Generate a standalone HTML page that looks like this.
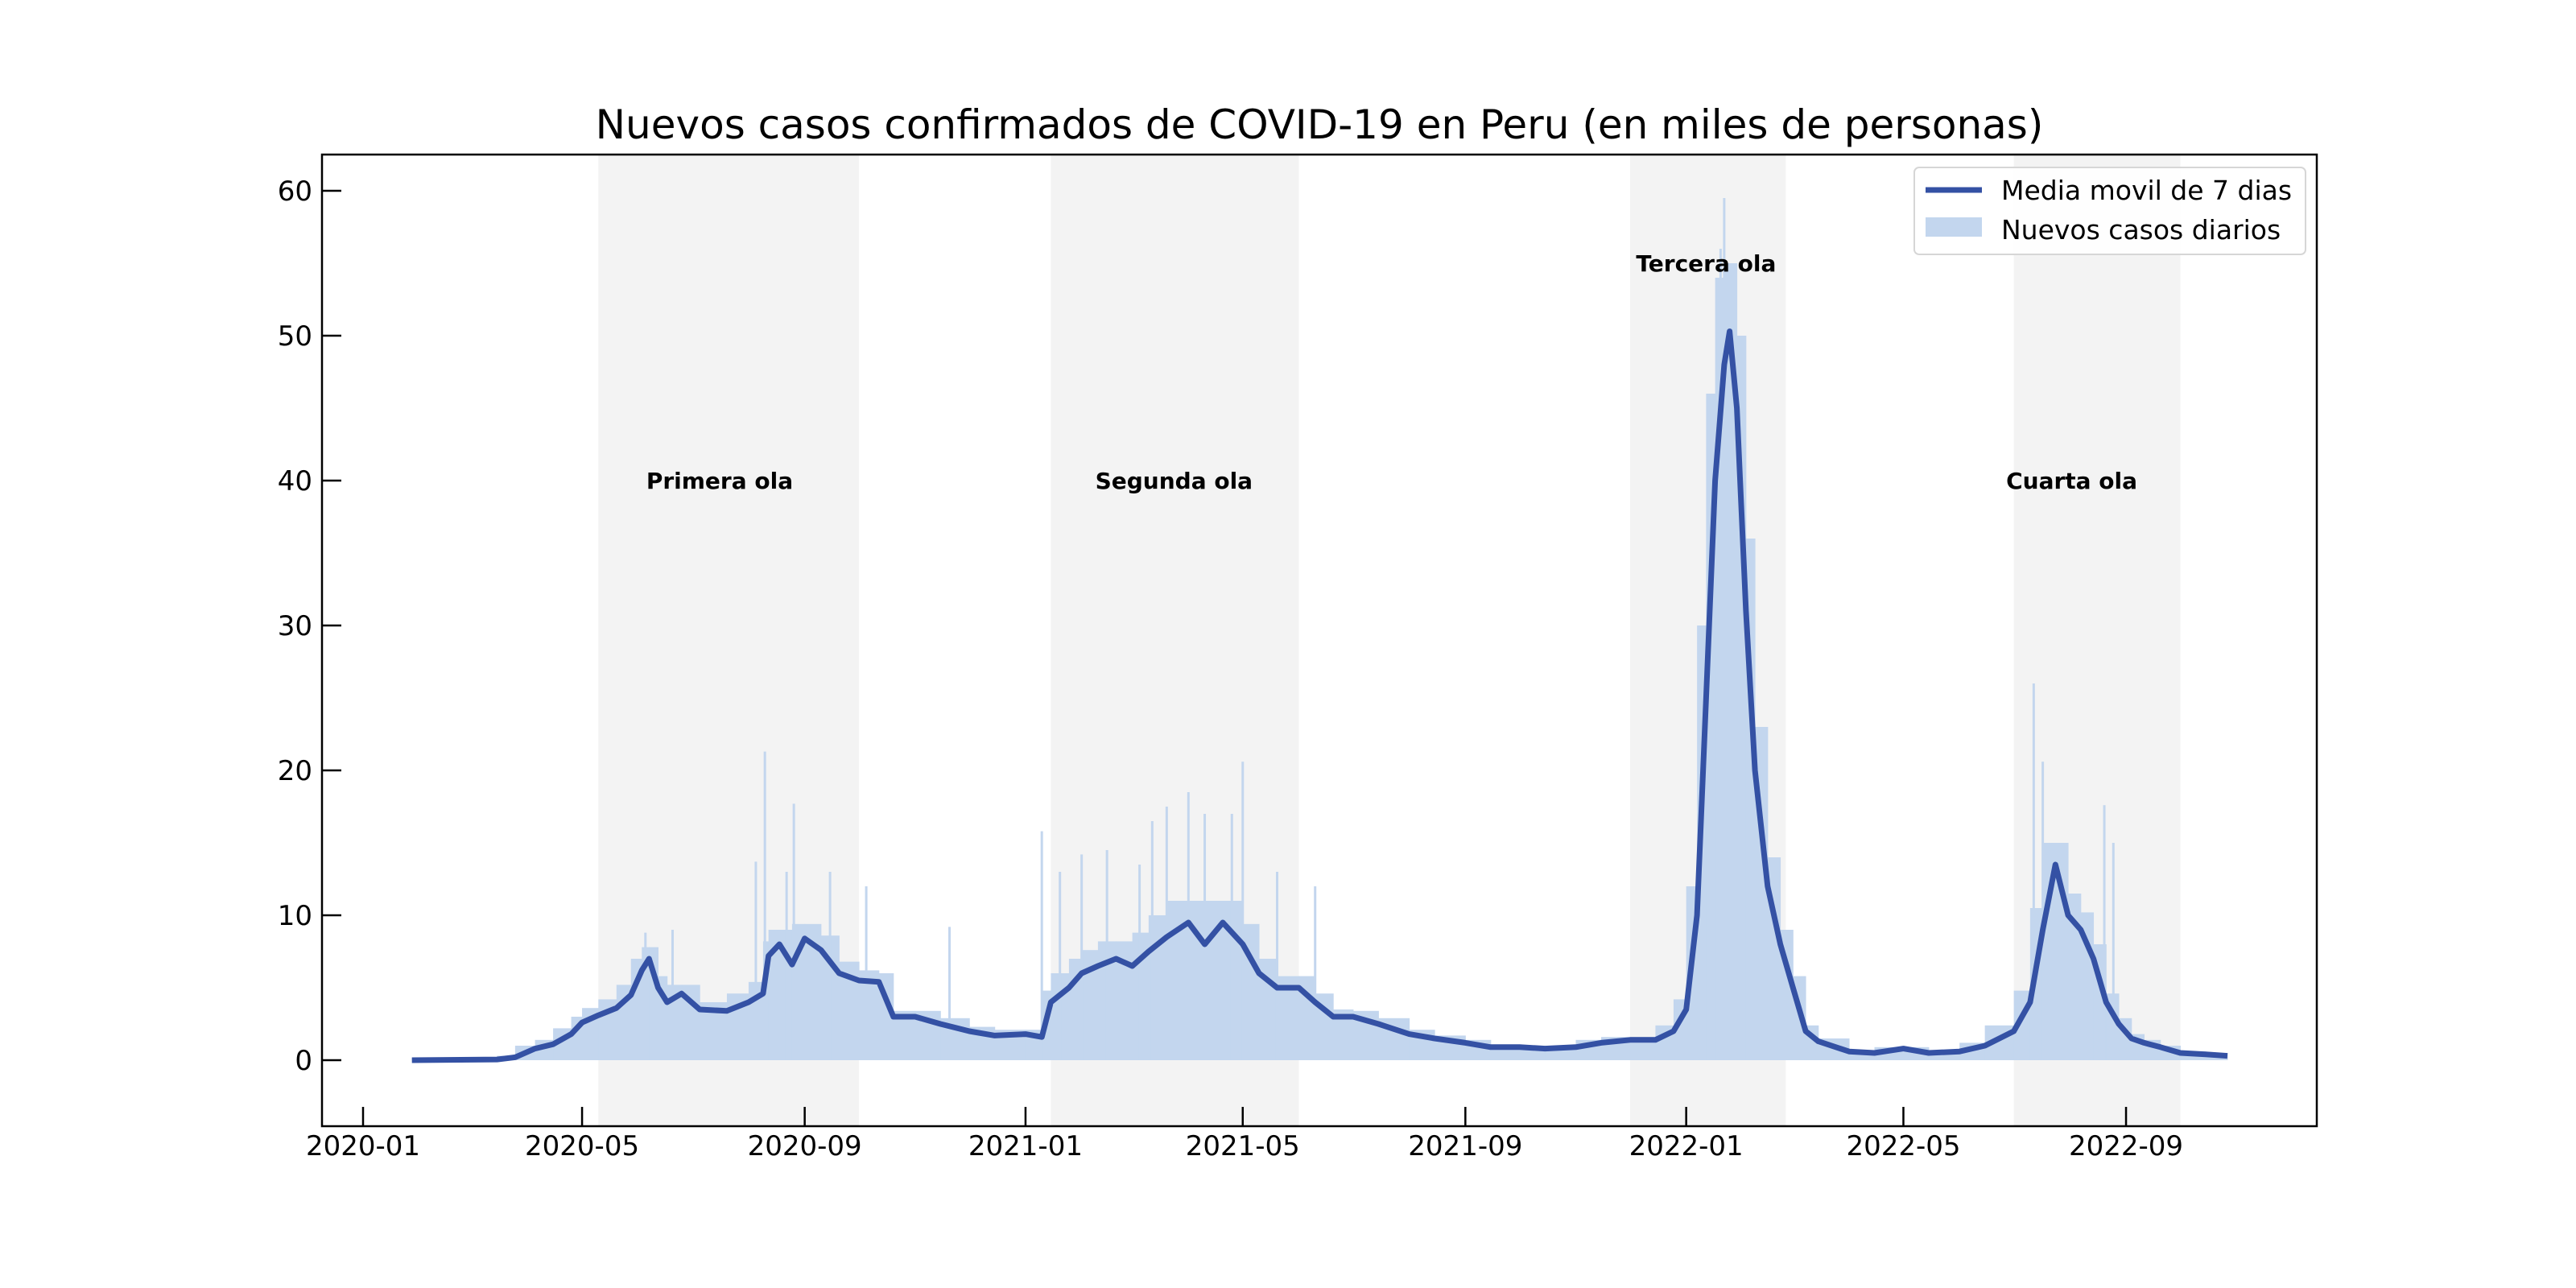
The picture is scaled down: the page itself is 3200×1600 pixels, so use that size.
<!DOCTYPE html>
<html><head><meta charset="utf-8">
<style>
html,body{margin:0;padding:0;background:#fff;}
svg{display:block;font-family:"DejaVu Sans","Liberation Sans",sans-serif;}
</style></head>
<body>
<svg id="chart" width="3200" height="1600" viewBox="0 0 3200 1600" xmlns="http://www.w3.org/2000/svg">
<rect width="3200" height="1600" fill="#fff"/>
<g id="shades"></g>
<g id="bars"></g>
<g id="spikes"></g>
<path id="maline" fill="none" stroke="#3451a4" stroke-width="7" stroke-linejoin="round"/>
<g id="labels"></g>
<rect x="400" y="192" width="2478" height="1207" fill="none" stroke="#000" stroke-width="2.5"/>
<g id="axes"></g>
<text x="1639" y="172" font-size="50" text-anchor="middle" fill="#000">Nuevos casos confirmados de COVID-19 en Peru (en miles de personas)</text>
<g>
<rect x="2378" y="208" width="486" height="108" rx="6" fill="#fff" fill-opacity="0.85" stroke="#d6d6d6" stroke-width="2"/>
<line x1="2392" y1="236" x2="2462" y2="236" stroke="#3451a4" stroke-width="7"/>
<text x="2486" y="248" font-size="33" fill="#000">Media movil de 7 dias</text>
<rect x="2392" y="270" width="70" height="24" fill="#c3d6ee"/>
<text x="2486" y="297" font-size="33" fill="#000">Nuevos casos diarios</text>
</g>
</svg>
<script>
// Moving average (thousands), dates and values
const maDates = ["2020-01-28","2020-03-15","2020-03-25","2020-04-05","2020-04-15","2020-04-25","2020-05-01","2020-05-10","2020-05-20","2020-05-28","2020-06-03","2020-06-07","2020-06-12","2020-06-17","2020-06-25","2020-07-05","2020-07-20","2020-08-01","2020-08-09","2020-08-12","2020-08-18","2020-08-25","2020-09-01","2020-09-10","2020-09-20","2020-10-01","2020-10-12","2020-10-20","2020-11-01","2020-11-15","2020-12-01","2020-12-15","2021-01-01","2021-01-10","2021-01-15","2021-01-25","2021-02-01","2021-02-10","2021-02-20","2021-03-01","2021-03-10","2021-03-20","2021-04-01","2021-04-10","2021-04-20","2021-05-01","2021-05-10","2021-05-20","2021-06-01","2021-06-10","2021-06-20","2021-07-01","2021-07-15","2021-08-01","2021-08-15","2021-09-01","2021-09-15","2021-10-01","2021-10-15","2021-11-01","2021-11-15","2021-12-01","2021-12-15","2021-12-25","2022-01-01","2022-01-07","2022-01-12","2022-01-17","2022-01-22","2022-01-25","2022-01-29","2022-02-03","2022-02-08","2022-02-15","2022-02-22","2022-03-01","2022-03-08","2022-03-15","2022-04-01","2022-04-15","2022-05-01","2022-05-15","2022-06-01","2022-06-15","2022-07-01","2022-07-10","2022-07-17","2022-07-24","2022-07-31","2022-08-07","2022-08-14","2022-08-21","2022-08-28","2022-09-04","2022-09-11","2022-09-20","2022-10-01","2022-10-15","2022-10-27"];
const maValues = [0,0.05,0.2,0.8,1.1,1.8,2.6,3.1,3.6,4.5,6.2,7.0,5.0,4.0,4.6,3.5,3.4,4.0,4.6,7.2,8.0,6.6,8.4,7.6,6.0,5.5,5.4,3.0,3.0,2.5,2.0,1.7,1.8,1.6,4.0,5.0,6.0,6.5,7.0,6.5,7.5,8.5,9.5,8.0,9.5,8.0,6.0,5.0,5.0,4.0,3.0,3.0,2.5,1.8,1.5,1.2,0.9,0.9,0.8,0.9,1.2,1.4,1.4,2.0,3.5,10.0,25.0,40.0,48.0,50.3,45.0,31.0,20.0,12.0,8.0,5.0,2.0,1.3,0.6,0.5,0.8,0.5,0.6,1.0,2.0,4.0,9.0,13.5,10.0,9.0,7.0,4.0,2.5,1.5,1.2,0.9,0.5,0.4,0.3];
// Daily cases envelope (thousands), per date in maDates
const barValues = [0,0.1,0.3,1.0,1.4,2.2,3.0,3.6,4.2,5.2,7.0,7.8,5.8,4.6,5.2,4.0,3.9,4.6,5.4,8.2,9.0,7.6,9.4,8.6,6.8,6.2,6.0,3.4,3.4,2.9,2.3,2.0,2.1,1.9,4.8,6.0,7.0,7.6,8.2,7.6,8.8,10.0,11.0,9.4,11.0,9.4,7.0,5.8,5.8,4.6,3.5,3.4,2.9,2.1,1.7,1.4,1.0,1.0,0.9,1.0,1.4,1.6,1.6,2.4,4.2,12.0,30.0,46.0,54.0,55.0,50.0,36.0,23.0,14.0,9.0,5.8,2.4,1.5,0.7,0.6,0.9,0.6,0.7,1.2,2.4,4.8,10.5,15.0,11.5,10.2,8.0,4.6,2.9,1.8,1.4,1.0,0.6,0.5,0.35];
// Single-day spikes
const spikeDates = ["2020-06-05","2020-06-20","2020-08-05","2020-08-10","2020-08-22","2020-08-26","2020-09-15","2020-10-05","2020-11-20","2021-01-10","2021-01-20","2021-02-01","2021-02-15","2021-03-05","2021-03-12","2021-03-20","2021-04-01","2021-04-10","2021-04-25","2021-05-01","2021-05-20","2021-06-10","2022-01-14","2022-01-18","2022-01-20","2022-01-22","2022-01-27","2022-01-30","2022-02-02","2022-07-12","2022-07-17","2022-08-20","2022-08-25"];
const spikeValues = [8.8,9.0,13.7,21.3,13.0,17.7,13.0,12.0,9.2,15.8,13.0,14.2,14.5,13.5,16.5,17.5,18.5,17.0,17.0,20.6,13.0,12.0,40.0,50.0,56.0,59.5,52.0,46.0,40.0,26.0,20.6,17.6,15.0];
const waveNames = ["Primera ola","Segunda ola","Tercera ola","Cuarta ola"];
const waveStart = ["2020-05-10","2021-01-15","2021-12-01","2022-07-01"];
const waveEnd = ["2020-10-01","2021-06-01","2022-02-25","2022-10-01"];
const waveLabelDate = ["2020-07-16","2021-03-24","2022-01-12","2022-08-02"];
const waveLabelY = [40,40,55,40];
const yTicks = [0,10,20,30,40,50,60];
const xTickLabels = ["2020-01","2020-05","2020-09","2021-01","2021-05","2021-09","2022-01","2022-05","2022-09"];

const NS="http://www.w3.org/2000/svg";
const T0=Date.UTC(2020,0,1);
function day(s){const p=s.split("-").map(Number);return (Date.UTC(p[0],p[1]-1,p[2]||1)-T0)/86400000;}
function xs(s){return 451+day(s)*2.2485;}
function ys(v){return 1317-v*18.0;}
function mk(tag,attrs,parent){const e=document.createElementNS(NS,tag);for(const k in attrs)e.setAttribute(k,attrs[k]);parent.appendChild(e);return e;}

const shades=document.getElementById("shades");
const labels=document.getElementById("labels");
waveNames.forEach((n,i)=>{
  const x1=xs(waveStart[i]),x2=xs(waveEnd[i]);
  const r=mk("rect",{x:x1,y:193,width:x2-x1,height:1205,fill:"#f3f3f3"},shades);
  
  
  const t=mk("text",{x:xs(waveLabelDate[i]),y:ys(waveLabelY[i])+10,"font-size":28,"font-weight":"bold","text-anchor":"middle",fill:"#000"},labels);
  t.textContent=n;
  
  
});

const bars=document.getElementById("bars");
for(let i=0;i<maDates.length-1;i++){
  const x1=xs(maDates[i]),x2=xs(maDates[i+1]);
  const v=Math.max(barValues[i],barValues[i+1]);
  const b=mk("rect",{x:x1,y:ys(v),width:x2-x1+0.5,height:ys(0)-ys(v),fill:"#c3d6ee"},bars);
  
  
}
const spikes=document.getElementById("spikes");
spikeDates.forEach((d,i)=>{
  const x=xs(d);
  const s=mk("rect",{x:x-1.5,y:ys(spikeValues[i]),width:3,height:ys(0)-ys(spikeValues[i]),fill:"#c3d6ee"},spikes);
  
  
});

let d="";
maDates.forEach((dt,i)=>{d+=(i?"L":"M")+xs(dt).toFixed(1)+","+ys(maValues[i]).toFixed(1);});
document.getElementById("maline").setAttribute("d",d);

const axes=document.getElementById("axes");
yTicks.forEach(v=>{
  const y=ys(v);
  const l=mk("line",{x1:400,y1:y,x2:424,y2:y,stroke:"#000","stroke-width":2.5},axes);
  
  
  const t=mk("text",{x:388,y:y+12,"font-size":34,"text-anchor":"end",fill:"#000"},axes);
  t.textContent=v;
  
  
});
xTickLabels.forEach(s=>{
  const x=xs(s);
  const l=mk("line",{x1:x,y1:1399,x2:x,y2:1375,stroke:"#000","stroke-width":2.5},axes);
  
  
  const t=mk("text",{x:x,y:1435,"font-size":34,"text-anchor":"middle",fill:"#000"},axes);
  t.textContent=s;
  
  
});
</script>
</body></html>
